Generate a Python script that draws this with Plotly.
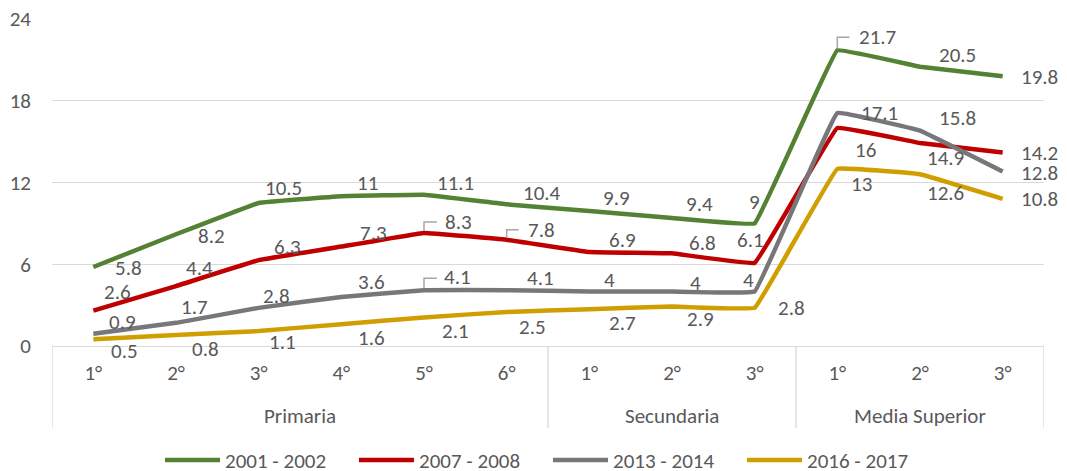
import plotly.graph_objects as go

grades = ["1°", "2°", "3°", "4°", "5°", "6°", "1°", "2°", "3°", "1°", "2°", "3°"]
groups = ["Primaria", "Secundaria", "Media Superior"]
group_centers = [2.5, 7, 10]
dividers = [-0.5, 5.5, 8.5, 11.5]

series_names = ["2001 - 2002", "2007 - 2008", "2013 - 2014", "2016 - 2017"]
s2001 = [5.8, 8.2, 10.5, 11, 11.1, 10.4, 9.9, 9.4, 9, 21.7, 20.5, 19.8]
s2007 = [2.6, 4.4, 6.3, 7.3, 8.3, 7.8, 6.9, 6.8, 6.1, 16, 14.9, 14.2]
s2013 = [0.9, 1.7, 2.8, 3.6, 4.1, 4.1, 4, 4, 4, 17.1, 15.8, 12.8]
s2016 = [0.5, 0.8, 1.1, 1.6, 2.1, 2.5, 2.7, 2.9, 2.8, 13, 12.6, 10.8]
series = [s2001, s2007, s2013, s2016]
colors = ["#548235", "#C00000", "#77777B", "#D09E00"]

# label offsets in pixels (dx right, dy down)
offs = [
    [(35, 1), (35, 2), (25, -15), (26, -13), (31, -12), (35, -11), (27, -13), (27, -14), (0, -21), (40, -13), (37, -12), (37, 1)],
    [(24, -19), (23, -18), (29, -13), (32, -14), (34, -11), (35, -10), (33, -12), (30, -10), (-4, -23), (28, 22), (25, 15), (37, 0)],
    [(29, -12), (18, -16), (18, -12), (30, -15), (33, -13), (34, -12), (20, -12), (23, -9), (-6, -12), (42, 0), (37, -13), (37, 1)],
    [(31, 12), (29, 14), (24, 11), (30, 14), (31, 14), (26, 15), (33, 14), (28, 13), (37, 0), (24, 15), (25, 19), (37, 0)],
]
# leader brackets: (series index, point index, up px, right px)
brackets = [(0, 9, 13, 12), (1, 4, 11, 13), (1, 5, 10, 12), (2, 4, 12, 13)]

FONT = "Carlito, Calibri, Lato, sans-serif"
TXT = "#595959"
GRID = "#D9D9D9"
FS = 21

x = list(range(len(grades)))
fig = go.Figure()
for name, vals, col in zip(series_names, series, colors):
    fig.add_trace(go.Scatter(x=x, y=vals, name=name, mode="lines",
                             line=dict(color=col, width=4.5, shape="spline", smoothing=0.15)))

ann = []
for si, vals in enumerate(series):
    for i, v in enumerate(vals):
        dx, dy = offs[si][i]
        ann.append(dict(x=i, y=v, xref="x", yref="y", text=f"{v:g}", showarrow=False,
                        xshift=dx, yshift=-dy, font=dict(size=FS, color=TXT, family=FONT)))
for g, c in zip(groups, group_centers):
    ann.append(dict(x=c, y=-0.214, xref="x", yref="paper", text=g, showarrow=False,
                    yanchor="middle", font=dict(size=FS, color=TXT, family=FONT)))

shapes = []
for d in dividers:
    shapes.append(dict(type="line", xref="x", yref="paper", x0=d, x1=d, y0=0, y1=-0.251,
                       line=dict(color=GRID, width=1.3)))
for si, i, up, right in brackets:
    shapes.append(dict(type="path", xref="x", yref="y", xsizemode="pixel", ysizemode="pixel",
                       xanchor=i, yanchor=series[si][i],
                       path=f"M0,2 L0,{up} L{right},{up}",
                       line=dict(color="#A6A6A6", width=1.5)))

fig.update_layout(
    width=1059, height=463,
    margin=dict(l=44, r=23, t=11, b=125, autoexpand=False),
    paper_bgcolor="white", plot_bgcolor="white",
    font=dict(family=FONT, color=TXT, size=FS),
    showlegend=True,
    legend=dict(orientation="h", x=0.5, xanchor="center", y=-0.35, yanchor="middle",
                font=dict(size=FS, color=TXT, family=FONT), itemwidth=55,
                entrywidth=124, entrywidthmode="pixels"),
    annotations=ann, shapes=shapes,
    xaxis=dict(range=[-0.5, 11.5], tickvals=x, ticktext=grades, showgrid=False,
               zeroline=False, showline=True, linecolor=GRID, linewidth=1.3,
               ticks="", ticklabelstandoff=8, tickfont=dict(size=FS, color=TXT)),
    yaxis=dict(range=[0, 24], tickvals=[0, 6, 12, 18, 24], showgrid=True, gridcolor=GRID,
               gridwidth=1.3, zeroline=False, showline=False, ticks="", ticklabelstandoff=20,
               ticklabeloverflow="allow", tickfont=dict(size=FS, color=TXT)),
)
fig.write_html("out.html")
